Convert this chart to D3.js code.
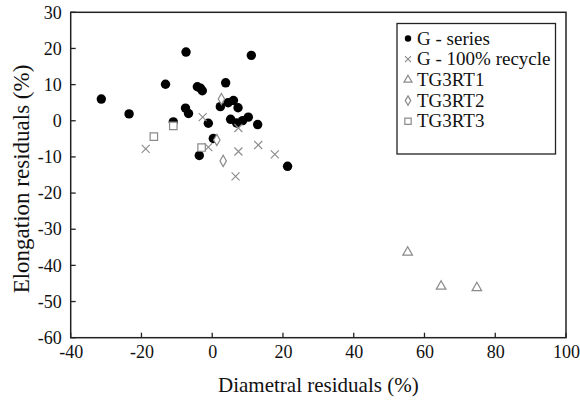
<!DOCTYPE html>
<html><head><meta charset="utf-8">
<script src="https://cdn.jsdelivr.net/npm/d3@7"></script>
<style>body{margin:0;background:#fff}svg{display:block}svg text{font-family:"Liberation Serif","Times New Roman",serif !important;fill:#111}</style>
</head><body><svg id="c" width="580" height="403"></svg>
<script>
const gSeriesX = [-31.35,-23.5,-13.2,-7.4,11.05,-7.55,-6.7,-11,-4.2,-3.3,-2.8,-1.1,0.3,-3.65,3.8,2.3,4.5,6,7.3,5.2,6.9,8.6,10.2,12.85,21.3];
const gSeriesY = [6.0,1.9,10.1,19.0,18.1,3.5,2.0,-0.3,9.4,9.0,8.3,-0.7,-4.9,-9.6,10.5,3.9,5.0,5.6,3.6,0.4,-0.6,0.05,1.0,-1.05,-12.6];
const recycleX = [-18.8,-2.7,-1.1,7.4,7.4,6.6,13,17.7];
const recycleY = [-7.8,1.0,-7.3,-2.0,-8.5,-15.4,-6.7,-9.3];
const rt1X = [55.25,64.7,74.8];
const rt1Y = [-36.4,-45.8,-46.2];
const rt2X = [2.6,1.3,3.1];
const rt2Y = [6.0,-5.3,-11.1];
const rt3X = [-16.5,-11,-3];
const rt3Y = [-4.4,-1.4,-7.4];
const xTicks = [-40,-20,0,20,40,60,80,100];
const yTicks = [30,20,10,0,-10,-20,-30,-40,-50,-60];
const legendLabels = ["G - series","G - 100% recycle","TG3RT1","TG3RT2","TG3RT3"];

const svg = d3.select("#c");
const L=70.7,R=566,T=12.3,B=337.7;
const x = d3.scaleLinear().domain([-40,100]).range([L,R]);
const y = d3.scaleLinear().domain([-60,30]).range([B,T]);
const fmt = d=>String(d);

svg.append("rect").attr("x",L).attr("y",T).attr("width",R-L).attr("height",B-T)
  .attr("fill","none").attr("stroke","#222").attr("stroke-width",1.5);

const xa = svg.append("g").attr("transform",`translate(0,${B})`)
  .call(d3.axisBottom(x).tickValues(xTicks).tickSize(0).tickPadding(8).tickFormat(fmt));
xa.attr("font-family",null);
xa.select(".domain").remove();
xa.selectAll("text").style("font-size","18px").style("font-family","'Liberation Serif'").attr("fill","#111");
xTicks.forEach(t=>svg.append("line").attr("x1",x(t)).attr("x2",x(t)).attr("y1",B).attr("y2",B-5).attr("stroke","#222").attr("stroke-width",1.3));

const ya = svg.append("g").attr("transform",`translate(${L},0)`)
  .call(d3.axisLeft(y).tickValues(yTicks).tickSize(0).tickPadding(9).tickFormat(fmt));
ya.attr("font-family",null);
ya.select(".domain").remove();
ya.selectAll("text").style("font-size","18px").style("font-family","'Liberation Serif'").attr("fill","#111");
yTicks.forEach(t=>svg.append("line").attr("y1",y(t)).attr("y2",y(t)).attr("x1",L).attr("x2",L+5).attr("stroke","#222").attr("stroke-width",1.3));

svg.append("text").attr("x",(L+R)/2).attr("y",392).attr("text-anchor","middle").attr("font-size",21).text("Diametral residuals (%)");
svg.append("text").attr("transform",`translate(29,${(T+B)/2+4}) rotate(-90)`).attr("text-anchor","middle").attr("font-size",23).text("Elongation residuals (%)");

const gray="#8a8a8a";
function drawX(g,cx,cy,s){g.append("path").attr("d",`M${cx-s},${cy-s}L${cx+s},${cy+s}M${cx-s},${cy+s}L${cx+s},${cy-s}`).attr("stroke",gray).attr("stroke-width",1.1).attr("fill","none");}
function drawSym(g,type,size,cx,cy){
  g.append("path").attr("d",d3.symbol().type(type).size(size)()).attr("transform",`translate(${cx},${cy})`)
   .attr("fill","#fff").attr("stroke",gray).attr("stroke-width",1.2);
}
const pts = svg.append("g");
drawSym(pts,d3.symbolSquare,56,x(rt3X[0]),y(rt3Y[0]));
gSeriesX.forEach((v,i)=>pts.append("circle").attr("cx",x(v)).attr("cy",y(gSeriesY[i])).attr("r",4.7).attr("fill","#000"));
recycleX.forEach((v,i)=>drawX(pts,x(v),y(recycleY[i]),4));
rt1X.forEach((v,i)=>drawSym(pts,d3.symbolTriangle,40,x(v),y(rt1Y[i])));
rt2X.forEach((v,i)=>drawSym(pts,d3.symbolDiamond,36,x(v),y(rt2Y[i])));
[1,2].forEach(i=>drawSym(pts,d3.symbolSquare,56,x(rt3X[i]),y(rt3Y[i])));

const lg = svg.append("g");
lg.append("rect").attr("x",397).attr("y",23.5).attr("width",158.5).attr("height",130.5).attr("fill","#fff").attr("stroke","#222").attr("stroke-width",1.3);
const rows=[38.5,59.2,79.9,100.6,121.3];
const mx=408;
lg.append("circle").attr("cx",mx).attr("cy",rows[0]).attr("r",3.2).attr("fill","#000");
drawX(lg,mx,rows[1],3);
drawSym(lg,d3.symbolTriangle,28,mx,rows[2]);
drawSym(lg,d3.symbolDiamond,26,mx,rows[3]);
drawSym(lg,d3.symbolSquare,40,mx,rows[4]);
legendLabels.forEach((t,i)=>lg.append("text").attr("x",417).attr("y",rows[i]+6).attr("font-size",19).text(t));
</script></body></html>
